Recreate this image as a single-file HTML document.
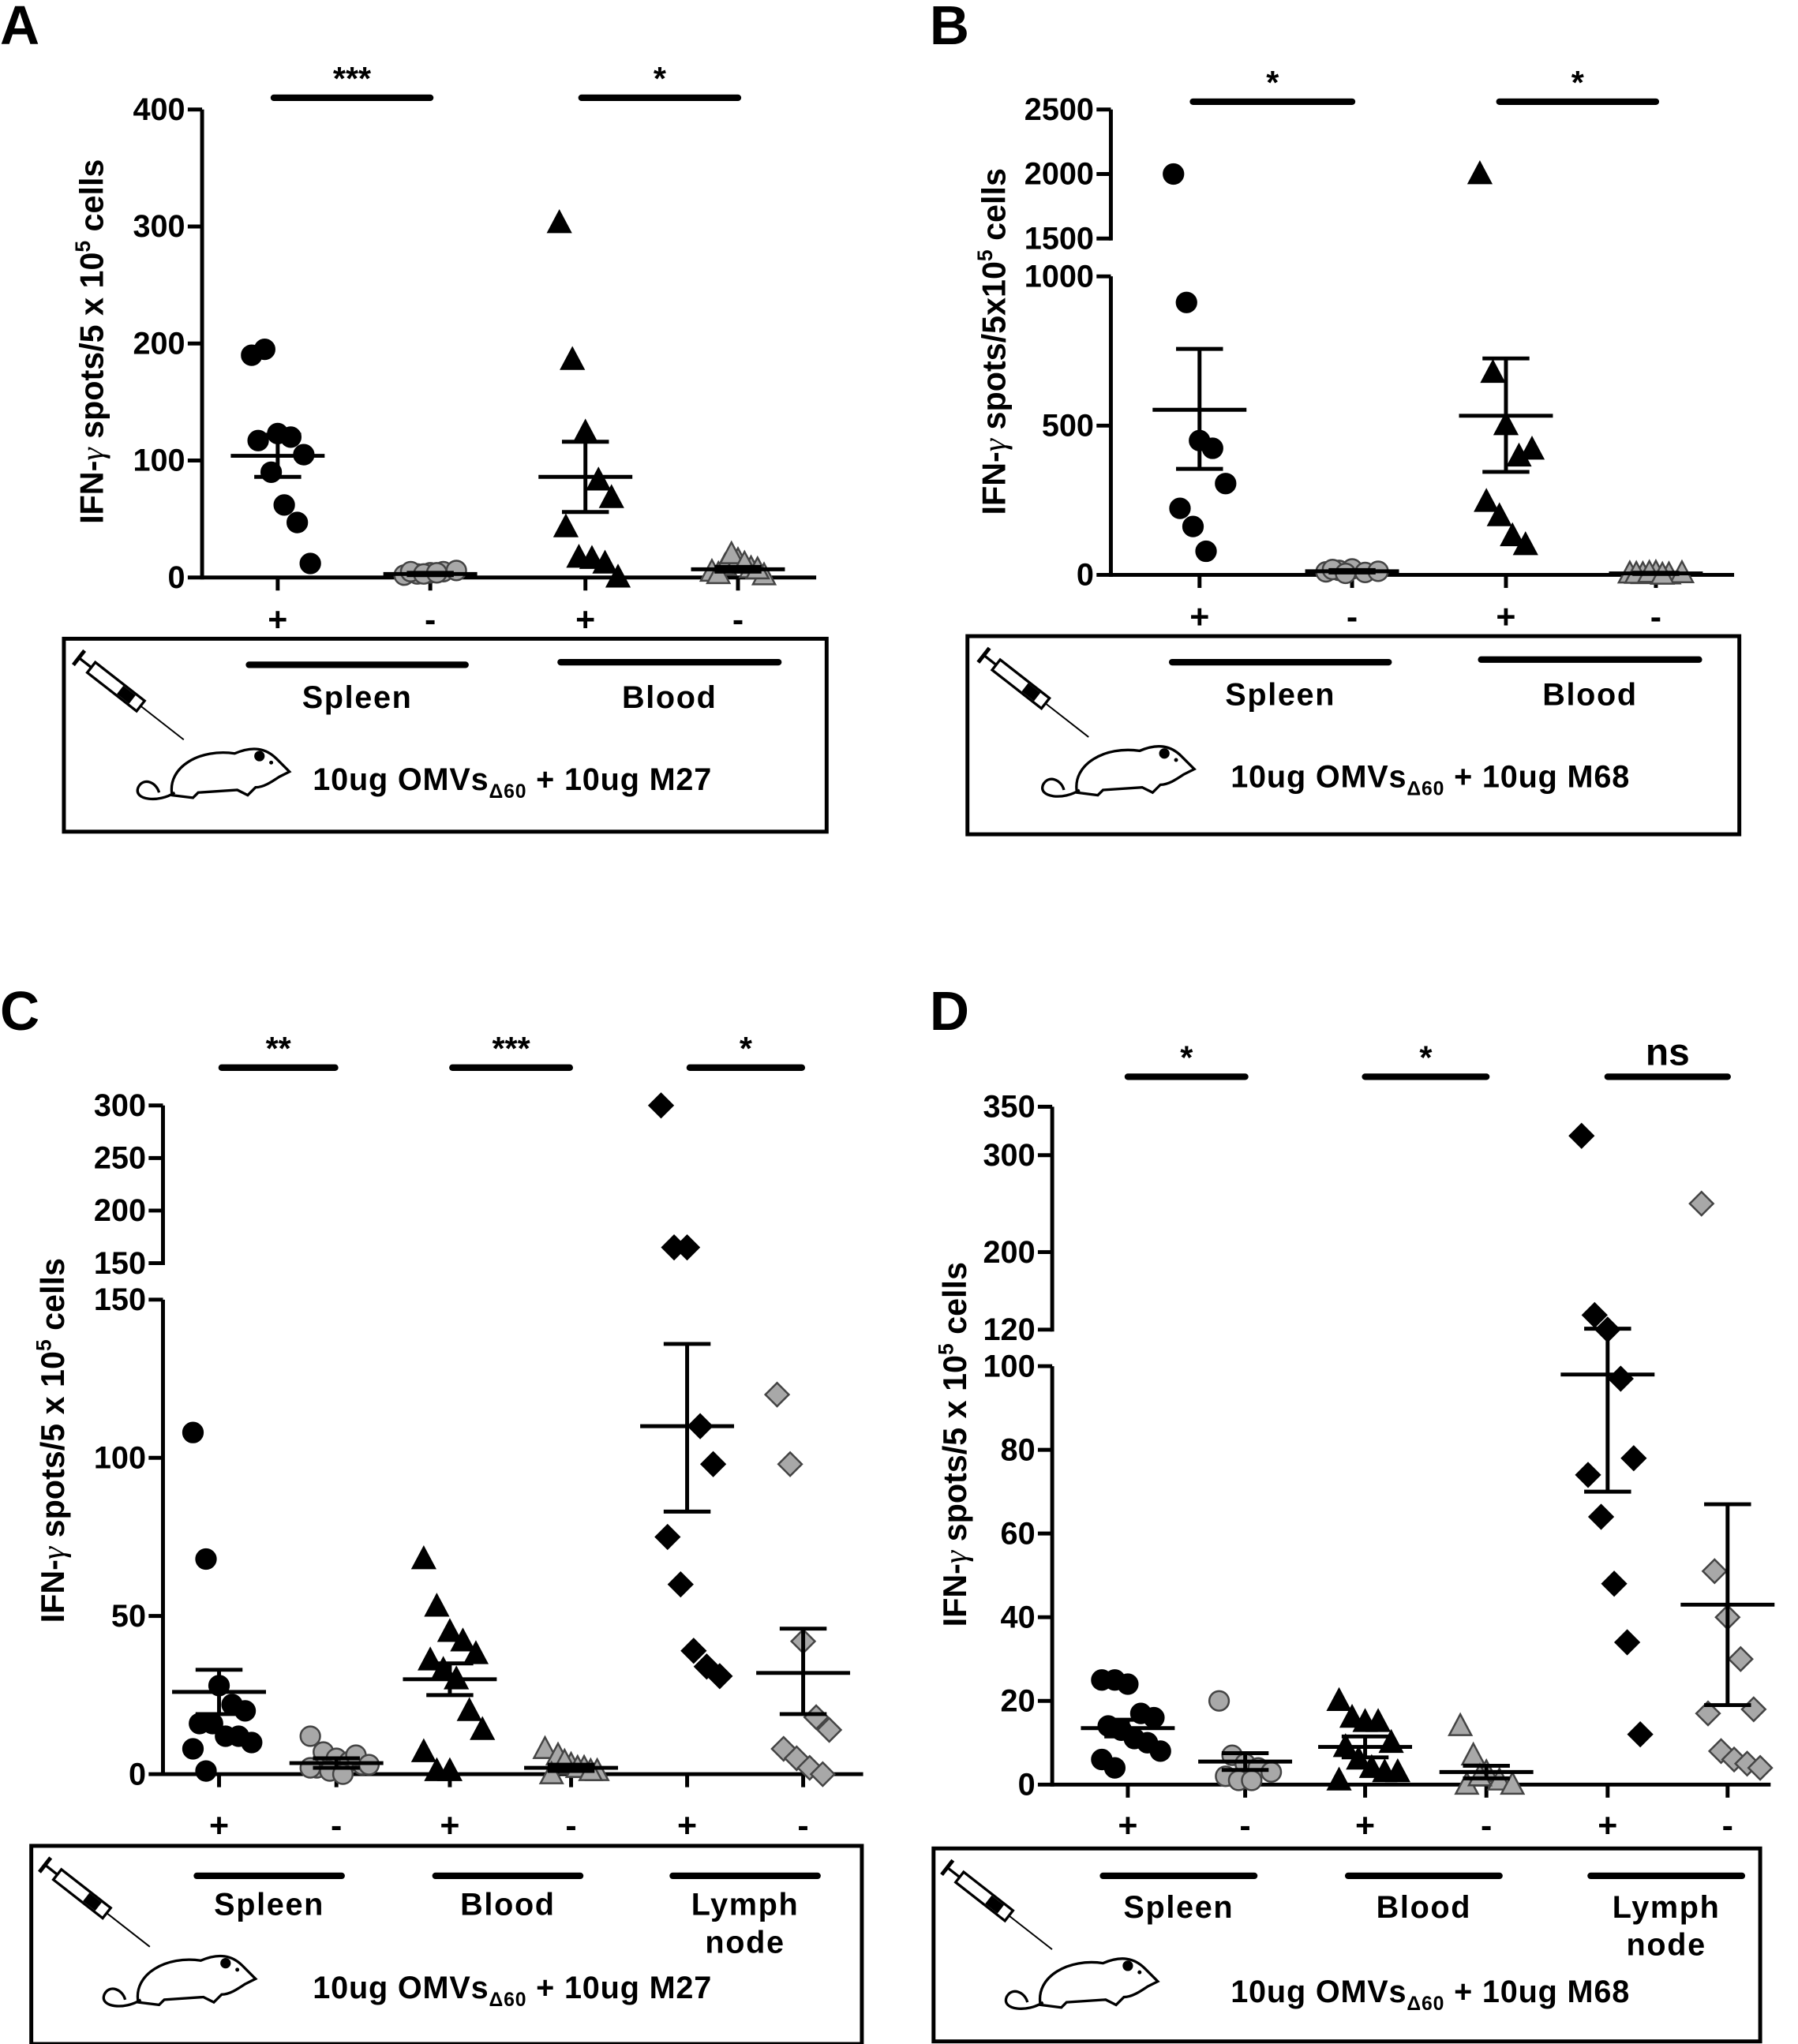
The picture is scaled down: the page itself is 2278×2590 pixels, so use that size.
<!DOCTYPE html>
<html><head><meta charset="utf-8">
<style>
html,body{margin:0;padding:0;background:#fff;}
svg{display:block;}
text{font-family:"Liberation Sans",Arial,sans-serif;font-weight:bold;fill:#000;}
</style></head>
<body>
<svg id="fig" width="2278" height="2590" viewBox="0 0 1379 1568" preserveAspectRatio="none" xmlns="http://www.w3.org/2000/svg"></svg>
<script>
// ===== Data =====
const groupLabels = ["+","-","+","-","+","-"];
// Panel A
const aSpleenPos = [190,195,123,120,105,117,90,62,47,12];
const aSpleenNeg = [2,3,4,5,6,5,3,4];
const aBloodPos = [303,186,124,83,68,43,17,16,12,0];
const aBloodNeg = [5,10,15,8,2,3,20,12,7];
const aMeans = [104,3,86,7];
const aSemHi = [122,4,116,9];
const aSemLo = [86,2,56,5];
const aTicks = [0,100,200,300,400];
const aSig = ["***","*"];
// Panel B
const bSpleenPos = [2000,1005,450,424,306,223,162,79];
const bSpleenNeg = [10,15,20,8,12,18,5];
const bBloodPos = [2000,677,502,397,420,245,197,130,100];
const bBloodNeg = [5,3,8,2,6,4,7,1];
const bMeans = [553,12,533,5];
const bSemHi = [757,16,725,7];
const bSemLo = [355,8,345,3];
const bTicksLow = [0,500,1000];
const bTicksHigh = [1500,2000,2500];
const bSig = ["*","*"];
// Panel C
const cSpleenPos = [108,68,28,22,20,16,16,12,12,10,8,1];
const cSpleenNeg = [12,7,5,4,3,2,1,0,6,3,2];
const cBloodPos = [68,53,45,42,38,36,33,30,20,14,7,1,1];
const cBloodNeg = [8,6,3,2,1,0,4,2,1];
const cLymphPos = [300,165,165,110,98,75,60,39,34,31];
const cLymphNeg = [120,98,42,18,14,8,5,2,0];
const cMeans = [26,3.5,30,2,110,32];
const cSemHi = [33,5,35,3,136,46];
const cSemLo = [19,2,25,1,83,19];
const cTicksLow = [0,50,100,150];
const cTicksHigh = [150,200,250,300];
const cSig = ["**","***","*"];
// Panel D
const dSpleenPos = [25,25,24,17,16,14,13,11,10,8,6,4];
const dSpleenNeg = [20,7,5,4,3,2,1,1];
const dBloodPos = [20,16,15,15,10,9,6,4,3,3,1];
const dBloodNeg = [14,7,3,1,0,0,2];
const dLymphPos = [320,135,120,97,78,74,64,48,34,12];
const dLymphNeg = [250,51,40,30,18,17,8,6,5,4];
const dMeans = [13.5,5.5,9,3,98,43];
const dSemHi = [15.5,7.5,11.5,4.5,121,67];
const dSemLo = [11.5,3.5,6.5,1.5,70,19];
const dTicksLow = [0,20,40,60,80,100];
const dTicksHigh = [120,200,300,350];
const dSig = ["*","*","ns"];

// ===== Helpers =====
const NS = "http://www.w3.org/2000/svg";
const svg = document.getElementById("fig");
function el(tag, attrs, parent){
  const e = document.createElementNS(NS, tag);
  for (const k in attrs) e.setAttribute(k, attrs[k]);
  (parent||svg).appendChild(e);
  return e;
}
function txt(x,y,s,size,parent,anchor){
  const t = el("text",{x:x,y:y,"font-size":size,"text-anchor":anchor||"middle"},parent);
  t.textContent = s;
  return t;
}
function makeScale(segs){
  return function(v){
    for (const s of segs){
      if (v>=s.lo && v<=s.hi) return s.y0 + (v-s.lo)/(s.hi-s.lo)*(s.y1-s.y0);
    }
    const s = segs[segs.length-1];
    return s.y0 + (v-s.lo)/(s.hi-s.lo)*(s.y1-s.y0);
  };
}
function marker(g, shape, fill, x, y){
  const stroke = fill==="#000" ? "#000" : "#444";
  let m;
  if (shape==="circle") m = el("circle",{cx:x,cy:y,r:7.5,fill:fill,stroke:stroke,"stroke-width":1.5},g);
  else if (shape==="tri") m = el("polygon",{points:`${x},${y-9} ${x+8.5},${y+7} ${x-8.5},${y+7}`,fill:fill,stroke:stroke,"stroke-width":1.5},g);
  else m = el("polygon",{points:`${x},${y-9} ${x+9},${y} ${x},${y+9} ${x-9},${y}`,fill:fill,stroke:stroke,"stroke-width":1.5},g);
  
  
}
function mouseIcon(g, x, y){
  const s = el("g",{transform:`translate(${x},${y}) rotate(38)`},g);
  
  
  el("rect",{x:0,y:-5,width:48,height:10,fill:"#fff",stroke:"#000","stroke-width":2},s);
  el("rect",{x:28,y:-4,width:12,height:8,fill:"#000"},s);
  el("line",{x1:-12,y1:0,x2:0,y2:0,stroke:"#000","stroke-width":2},s);
  el("line",{x1:-12,y1:-7,x2:-12,y2:7,stroke:"#000","stroke-width":3},s);
  el("line",{x1:48,y1:0,x2:90,y2:0,stroke:"#000","stroke-width":1.2},s);
  const m = el("g",{transform:`translate(${x-8},${y-4})`},g);
  
  
  el("path",{d:"M70,102 C66,80 92,66 118,70 C132,64 142,66 150,74 L160,84 L152,88 C146,92 140,96 134,96 L128,102 L120,98 L90,100 L86,104 Z",fill:"#fff",stroke:"#000","stroke-width":2},m);
  el("path",{d:"M72,100 C60,108 40,106 44,96 C48,88 58,92 60,100",fill:"none",stroke:"#000","stroke-width":2},m);
  el("circle",{cx:137,cy:72,r:4,fill:"#000"},m);
  el("circle",{cx:146,cy:77,r:1.5,fill:"#000"},m);
}

function panel(cfg){
  const g = el("g",{});
  
  
  const sc = makeScale(cfg.segs);
  const L = txt(cfg.letterX, cfg.letterY, cfg.letter, 42, g, "start");
  
  
  const ax = el("g",{},g);
  
  
  cfg.segs.forEach((s,si)=>{
    el("line",{x1:cfg.axisX,y1:s.y0+1.5,x2:cfg.axisX,y2:s.y1,stroke:"#000","stroke-width":3},ax);
    s.ticks.forEach(t=>{
      const y = sc(t);
      const yy = (t===s.lo? s.y0 : (t===s.hi? s.y1 : y));
      el("line",{x1:cfg.axisX-11,y1:yy,x2:cfg.axisX,y2:yy,stroke:"#000","stroke-width":3},ax);
      const lab = txt(cfg.axisX-13, yy+8, String(t), 24, ax, "end");
      
      
    });
  });
  const yt = el("text",{x:0,y:0,"font-size":25,"text-anchor":"middle",transform:`translate(${cfg.titleX},${cfg.titleY}) rotate(-90)`},g);
  
  
  yt.innerHTML = cfg.title;
  const y0 = sc(0);
  const bl = el("line",{x1:cfg.axisX,y1:y0,x2:cfg.baseEnd,y2:y0,stroke:"#000","stroke-width":3},g);
  
  
  cfg.groups.forEach((grp,gi)=>{
    const gx = cfg.gx[gi];
    const gg = el("g",{},g);
    
    
    el("line",{x1:gx,y1:y0,x2:gx,y2:y0+10,stroke:"#000","stroke-width":3},gg);
    const gl = txt(gx, cfg.plusY, groupLabels[gi], 26, gg);
    
    
    const fill = gi%2===0 ? "#000" : "#a8a8a8";
    grp.forEach((v,i)=>{
      const off = ((i%5)-2)*10 + (Math.floor(i/5)%2 ? 5 : 0);
      marker(gg, cfg.shapes[Math.floor(gi/2)], fill, gx+off, sc(v));
    });
    const mY = sc(cfg.means[gi]);
    const hY = sc(cfg.hi[gi]), lY = sc(cfg.lo[gi]);
    const eb = el("g",{},gg);
    
    
    el("line",{x1:gx-36,y1:mY,x2:gx+36,y2:mY,stroke:"#000","stroke-width":3},eb);
    el("line",{x1:gx,y1:hY,x2:gx,y2:lY,stroke:"#000","stroke-width":3},eb);
    el("line",{x1:gx-18,y1:hY,x2:gx+18,y2:hY,stroke:"#000","stroke-width":3},eb);
    el("line",{x1:gx-18,y1:lY,x2:gx+18,y2:lY,stroke:"#000","stroke-width":3},eb);
  });
  cfg.sig.forEach((s,i)=>{
    const x1 = cfg.gx[i*2]-cfg.sigPad, x2 = cfg.gx[i*2+1]+cfg.sigPad2;
    const sg = el("g",{},g);
    
    
    el("line",{x1:x1,y1:cfg.sigY,x2:x2,y2:cfg.sigY,stroke:"#000","stroke-width":5,"stroke-linecap":"round"},sg);
    const st = txt((x1+x2)/2, cfg.sigY-(s==="ns"?9:6), s, s==="ns"?29:25, sg);
    if (s==="ns") st.setAttribute("font-weight","normal");
  });
  const bx = el("g",{},g);
  
  
  el("rect",{x:cfg.box[0],y:cfg.box[1],width:cfg.box[2],height:cfg.box[3],fill:"none",stroke:"#000","stroke-width":3},bx);
  cfg.tissues.forEach(t=>{
    el("line",{x1:t.x1,y1:t.ly,x2:t.x2,y2:t.ly,stroke:"#000","stroke-width":5,"stroke-linecap":"round"},bx);
    t.lines.forEach((s,k)=>{
      const tt = txt((t.x1+t.x2)/2, t.ty + k*29, s, 24, bx);
      tt.setAttribute("letter-spacing","1");
      
      
    });
  });
  const tr = el("text",{x:cfg.treat[0],y:cfg.treat[1],"font-size":24,"text-anchor":"middle","letter-spacing":"0.5"},bx);
  
  
  tr.innerHTML = `10ug OMVs<tspan font-size="15" dy="6">Δ60</tspan><tspan dy="-6"> + 10ug ${cfg.peptide}</tspan>`;
  mouseIcon(bx, cfg.mouse[0], cfg.mouse[1]);
}

const titleBig = 'IFN-<tspan font-family="Liberation Serif" font-style="italic" font-weight="normal">γ</tspan> spots/5 x 10<tspan font-size="16" dy="-10">5</tspan><tspan dy="10"> cells</tspan>';
const titleB = 'IFN-<tspan font-family="Liberation Serif" font-style="italic" font-weight="normal">γ</tspan> spots/5x10<tspan font-size="16" dy="-10">5</tspan><tspan dy="10">  cells</tspan>';

panel({name:"panel-a",letter:"A",letterX:0,letterY:34,axisX:155,baseEnd:626,titleX:79,titleY:262,title:titleBig,
  segs:[{lo:0,hi:400,y0:443,y1:84,ticks:aTicks}],
  groups:[aSpleenPos,aSpleenNeg,aBloodPos,aBloodNeg],gx:[213,330,449,566],shapes:["circle","tri"],
  means:aMeans,hi:aSemHi,lo:aSemLo,plusY:484,sig:aSig,sigY:75,sigPad:3,sigPad2:0,
  box:[49,490,585,148],tissues:[{x1:191,x2:357,ly:510,ty:543,lines:["Spleen"]},{x1:430,x2:597,ly:508,ty:543,lines:["Blood"]}],
  treat:[393,606],peptide:"M27",mouse:[70,512]});

panel({name:"panel-b",letter:"B",letterX:713,letterY:34,axisX:852,baseEnd:1330,titleX:771,titleY:262,title:titleB,
  segs:[{lo:0,hi:1000,y0:441,y1:212,ticks:bTicksLow},{lo:1500,hi:2500,y0:183,y1:84,ticks:bTicksHigh}],
  groups:[bSpleenPos,bSpleenNeg,bBloodPos,bBloodNeg],gx:[920,1037,1155,1270],shapes:["circle","tri"],
  means:bMeans,hi:bSemHi,lo:bSemLo,plusY:482,sig:bSig,sigY:78,sigPad:5,sigPad2:0,
  box:[742,488,592,152],tissues:[{x1:899,x2:1065,ly:508,ty:541,lines:["Spleen"]},{x1:1136,x2:1303,ly:506,ty:541,lines:["Blood"]}],
  treat:[1097,604],peptide:"M68",mouse:[764,510]});

panel({name:"panel-c",letter:"C",letterX:0,letterY:790,axisX:125,baseEnd:662,titleX:49,titleY:1105,title:titleBig,
  segs:[{lo:0,hi:150,y0:1361,y1:997,ticks:cTicksLow},{lo:150,hi:300,y0:969,y1:848,ticks:cTicksHigh}],
  groups:[cSpleenPos,cSpleenNeg,cBloodPos,cBloodNeg,cLymphPos,cLymphNeg],gx:[168,258,345,438,527,616],shapes:["circle","tri","diamond"],
  means:cMeans,hi:cSemHi,lo:cSemLo,plusY:1409,sig:cSig,sigY:819,sigPad:-2,sigPad2:-1,
  box:[24,1416,637,152],tissues:[{x1:151,x2:262,ly:1439,ty:1469,lines:["Spleen"]},{x1:334,x2:445,ly:1439,ty:1469,lines:["Blood"]},{x1:516,x2:627,ly:1439,ty:1469,lines:["Lymph","node"]}],
  treat:[393,1533],peptide:"M27",mouse:[44,1438]});

panel({name:"panel-d",letter:"D",letterX:713,letterY:790,axisX:807,baseEnd:1358,titleX:741,titleY:1108,title:titleBig,
  segs:[{lo:0,hi:100,y0:1369,y1:1048,ticks:dTicksLow},{lo:120,hi:350,y0:1020,y1:849,ticks:dTicksHigh}],
  groups:[dSpleenPos,dSpleenNeg,dBloodPos,dBloodNeg,dLymphPos,dLymphNeg],gx:[865,955,1047,1140,1233,1325],shapes:["circle","tri","diamond"],
  means:dMeans,hi:dSemHi,lo:dSemLo,plusY:1409,sig:dSig,sigY:826,sigPad:0,sigPad2:0,
  box:[716,1418,634,148],tissues:[{x1:846,x2:962,ly:1439,ty:1471,lines:["Spleen"]},{x1:1034,x2:1150,ly:1439,ty:1471,lines:["Blood"]},{x1:1220,x2:1336,ly:1439,ty:1471,lines:["Lymph","node"]}],
  treat:[1097,1536],peptide:"M68",mouse:[736,1440]});
</script>
</body></html>
